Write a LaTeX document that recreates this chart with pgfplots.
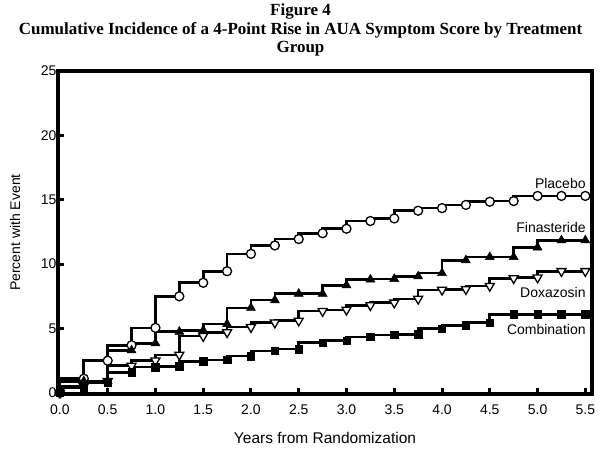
\documentclass[border=0pt]{standalone}
\usepackage{pgfplots}
\pgfplotsset{compat=1.18}
\usepackage{fontspec}
\setmainfont{Liberation Sans}
\newfontfamily\titlefont{Liberation Serif}
\begin{document}
\begin{tikzpicture}[x=1pt,y=1pt]
\path (-58,-54) rectangle (543,393);
\begin{axis}[
  scale only axis, width=534pt, height=323pt,
  xmin=-0.02, xmax=5.57, ymin=-0.1, ymax=25,
  axis line style={line width=3.5pt},
  xtick={0,0.5,...,5.5}, ytick={0,5,10,15,20,25},
  xtick pos=bottom, ytick pos=left, tick align=inside,
  major tick length=6pt,
  tick style={line width=3pt, black},
  xticklabel style={/pgf/number format/fixed, /pgf/number format/precision=1, /pgf/number format/fixed zerofill, font=\fontsize{14}{16}\selectfont, yshift=-7pt},
  yticklabel style={font=\fontsize{14}{16}\selectfont, xshift=2pt},
  /pgf/number format/assume math mode=true,
  xlabel={Years from Randomization},
  ylabel={Percent with Event},
  xlabel style={font=\fontsize{15.5}{17}\selectfont, at={(axis description cs:0.5,0)}, anchor=center, yshift=-44pt},
  ylabel style={font=\fontsize{14}{16}\selectfont, at={(axis description cs:0,0.5)}, anchor=center, yshift=43pt},
  clip=false,
  every axis plot/.append style={const plot mark right, line width=2.6pt, black},
]
\addplot[mark=*, mark options={fill=white, draw=black, line width=1.3pt}, mark size=4.5pt] coordinates {
(0,0) (0.25,1.1) (0.5,2.5) (0.75,3.7) (1.0,5.05) (1.25,7.5) (1.5,8.55) (1.75,9.45) (2.0,10.8) (2.25,11.45) (2.5,11.95) (2.75,12.4) (3.0,12.75) (3.25,13.35) (3.5,13.55) (3.75,14.15) (4.0,14.35) (4.25,14.6) (4.5,14.85) (4.75,14.9) (5.0,15.3) (5.25,15.3) (5.5,15.3)};
\addplot[mark=triangle*, mark options={fill=black, line width=0.5pt}, mark size=5.2pt] coordinates {
(0,0) (0.25,0.9) (0.5,0.9) (0.75,3.3) (1.0,3.85) (1.25,4.75) (1.5,4.85) (1.75,5.35) (2.0,6.6) (2.25,7.2) (2.5,7.7) (2.75,7.7) (3.0,8.35) (3.25,8.8) (3.5,8.85) (3.75,9.05) (4.0,9.3) (4.25,10.3) (4.5,10.55) (4.75,10.55) (5.0,11.3) (5.25,11.85) (5.5,11.85)};
\addplot[mark=triangle*, mark options={fill=white, draw=black, rotate=180, line width=1.3pt}, mark size=5.2pt] coordinates {
(0,0) (0.25,0.5) (0.5,0.9) (0.75,2.1) (1.0,2.5) (1.25,2.95) (1.5,4.4) (1.75,4.7) (2.0,5.1) (2.25,5.45) (2.5,5.6) (2.75,6.35) (3.0,6.45) (3.25,6.8) (3.5,7.0) (3.75,7.3) (4.0,8.0) (4.25,8.05) (4.5,8.3) (4.75,8.9) (5.0,8.95) (5.25,9.45) (5.5,9.45)};
\addplot[mark=square*, mark options={fill=black, line width=0.5pt}, mark size=3.7pt] coordinates {
(0,0) (0.25,0.4) (0.5,0.8) (0.75,1.6) (1.0,2.0) (1.25,2.05) (1.5,2.45) (1.75,2.55) (2.0,2.85) (2.25,3.25) (2.5,3.4) (2.75,3.9) (3.0,4.05) (3.25,4.35) (3.5,4.5) (3.75,4.55) (4.0,5.0) (4.25,5.25) (4.5,5.45) (4.75,6.1) (5.0,6.1) (5.25,6.1) (5.5,6.1)};
\node[anchor=east, font=\fontsize{14}{16}\selectfont] at (axis cs:5.54,16.3) {Placebo};
\node[anchor=east, font=\fontsize{14}{16}\selectfont] at (axis cs:5.54,12.85) {Finasteride};
\node[anchor=east, font=\fontsize{14}{16}\selectfont] at (axis cs:5.54,7.8) {Doxazosin};
\node[anchor=east, font=\fontsize{14}{16}\selectfont] at (axis cs:5.54,4.9) {Combination};
\end{axis}
\node[font=\titlefont\bfseries\fontsize{17}{19}\selectfont] at (242.5,383) {Figure 4};
\node[font=\titlefont\bfseries\fontsize{17}{19}\selectfont] at (242.5,364) {Cumulative Incidence of a 4-Point Rise in AUA Symptom Score by Treatment};
\node[font=\titlefont\bfseries\fontsize{17}{19}\selectfont] at (242.5,345) {Group};
\end{tikzpicture}
\end{document}
